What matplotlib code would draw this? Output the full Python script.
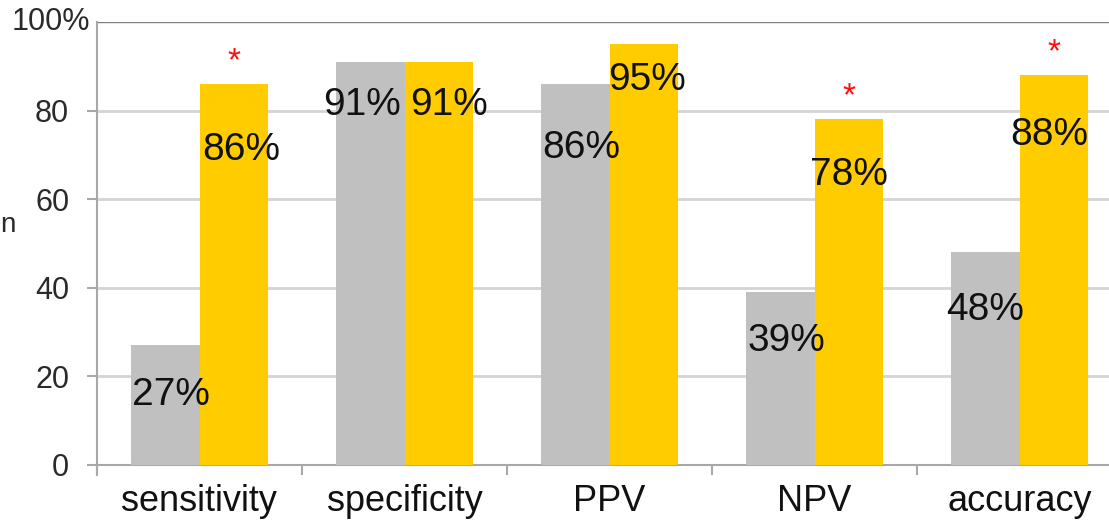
import matplotlib
matplotlib.use("Agg")
import matplotlib.pyplot as plt
import numpy as np

# Diagnostic performance per metric, two methods
categories = ["sensitivity", "specificity", "PPV", "NPV", "accuracy"]
method_a = [27, 91, 86, 39, 48]
method_b = [86, 91, 95, 78, 88]
significant = [True, False, False, True, True]
yticks = [0, 20, 40, 60, 80]
ytick_labels = ["0", "20", "40", "60", "80"]

# Label placement inside the bars (height in data units, horizontal nudge in bar units)
label_y_a = [15.8, 81.3, 71.6, 28.0, 35.0]
label_y_b = [71.1, 81.3, 86.9, 65.5, 74.5]
label_dx_a = [0.03, -0.04, 0.03, 0.03, 0.00]
label_dx_b = [0.035, 0.05, 0.015, 0.0, -0.02]

GRAY = "#C0C0C0"
GOLD = "#FFCC00"
FONT = "Liberation Sans"

W, H = 1109, 526
fig = plt.figure(figsize=(W / 100, H / 100), dpi=100)
ax = fig.add_axes([97 / W, 61 / H, 1025 / W, 443 / H])

x = np.arange(len(categories))
bw = 0.334
ax.bar(x - bw / 2, method_a, width=bw, color=GRAY, zorder=3)
ax.bar(x + bw / 2, method_b, width=bw, color=GOLD, zorder=3)

ax.set_xlim(-0.5, len(categories) - 0.5)
ax.set_ylim(0, 100)

# value labels
for i in range(len(categories)):
    ax.text(x[i] - bw / 2 + label_dx_a[i], label_y_a[i], f"{method_a[i]}%",
            ha="center", va="center", fontsize=28, family=FONT,
            color="#111111", zorder=5)
    ax.text(x[i] + bw / 2 + label_dx_b[i], label_y_b[i], f"{method_b[i]}%",
            ha="center", va="center", fontsize=28, family=FONT,
            color="#111111", zorder=5)
    if significant[i]:
        ax.annotate("*", xy=(x[i] + bw / 2, method_b[i]), xytext=(0, 5),
                    textcoords="offset points", ha="center", va="bottom",
                    fontsize=24, color="#FF1010", family=FONT, zorder=5)

# grid
for yv in yticks[1:]:
    ax.axhline(yv, color="#D4D4D4", lw=2.0, zorder=1)
ax.axhline(100, color="#7F7F7F", lw=1.0, zorder=1)

# spines
for s in ["top", "right"]:
    ax.spines[s].set_visible(False)
ax.spines["left"].set_color("#A8A8A8")
ax.spines["left"].set_linewidth(1.5)
ax.spines["left"].set_bounds(-2.3, 100)
ax.spines["bottom"].set_color("#A8A8A8")
ax.spines["bottom"].set_linewidth(1.5)

# y ticks
ax.set_yticks(yticks)
ax.set_yticklabels(ytick_labels, family=FONT, fontsize=22, color="#2a2a2a")
ax.tick_params(axis="y", length=7, width=1.5, color="#A8A8A8", pad=13)
ax.annotate("100%", xy=(0, 100), xycoords=("axes fraction", "data"),
            xytext=(-5, 0), textcoords="offset points", ha="right",
            va="center", fontsize=22, family=FONT, color="#2a2a2a")

# x ticks: labels at centres, marks at category boundaries
ax.set_xticks(x)
ax.set_xticklabels(categories, family=FONT, fontsize=26, color="#111111")
ax.tick_params(axis="x", which="major", length=0, pad=14)
ax.set_xticks(np.arange(len(categories) + 1) - 0.5, minor=True)
ax.tick_params(axis="x", which="minor", length=7, width=1.5, color="#A8A8A8")

# axis title remnant at far left
fig.text(0, 1 - 225 / H, "n", ha="left", va="center",
         fontsize=20, family=FONT, color="#2a2a2a")

fig.savefig("out.png", dpi=100)
